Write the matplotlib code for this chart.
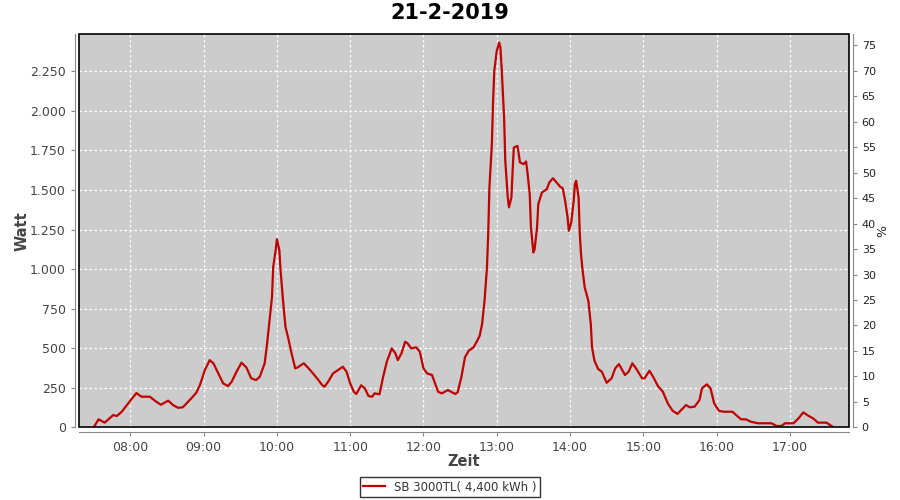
import matplotlib
matplotlib.use("Agg")
import matplotlib.pyplot as plt
from matplotlib.patches import Rectangle
from matplotlib.ticker import FuncFormatter, MultipleLocator

# values (time of day, power in W)
times = ["07:30", "07:34", "07:39", "07:46", "07:49", "07:53", "08:00", "08:05",
         "08:09", "08:16", "08:20", "08:25", "08:31", "08:35", "08:39", "08:43",
         "08:50", "08:54", "08:57", "09:01", "09:05", "09:08", "09:12", "09:16",
         "09:20", "09:23", "09:27", "09:31", "09:35", "09:39", "09:43", "09:46",
         "09:50", "09:52", "09:54", "09:56", "09:57", "09:59", "10:00", "10:02",
         "10:03", "10:05", "10:07", "10:09", "10:12", "10:15", "10:17", "10:22",
         "10:26", "10:30", "10:34", "10:37", "10:39", "10:42", "10:46", "10:50",
         "10:54", "10:57", "11:00", "11:03", "11:05", "11:09", "11:12", "11:15",
         "11:18", "11:20", "11:24", "11:27", "11:30", "11:34", "11:37", "11:39",
         "11:42", "11:45", "11:47", "11:50", "11:54", "11:57", "12:00", "12:03",
         "12:07", "12:09", "12:12", "12:15", "12:20", "12:26", "12:28", "12:31",
         "12:34", "12:37", "12:41", "12:44", "12:46", "12:48", "12:50", "12:52",
         "12:53", "12:54", "12:56", "12:57", "12:58", "13:00", "13:02", "13:03",
         "13:04", "13:06", "13:07", "13:09", "13:10", "13:12", "13:13", "13:14",
         "13:17", "13:19", "13:22", "13:24", "13:25", "13:27", "13:28", "13:30",
         "13:31", "13:33", "13:34", "13:37", "13:41", "13:43", "13:46", "13:49",
         "13:52", "13:54", "13:56", "13:58", "13:59", "14:01", "14:03", "14:04",
         "14:05", "14:07", "14:08", "14:09", "14:10", "14:12", "14:15", "14:17",
         "14:18", "14:20", "14:23", "14:26", "14:30", "14:34", "14:37", "14:40",
         "14:45", "14:48", "14:51", "14:54", "14:59", "15:01", "15:05", "15:08",
         "15:12", "15:16", "15:20", "15:24", "15:28", "15:31", "15:35", "15:38",
         "15:42", "15:46", "15:48", "15:52", "15:55", "15:58", "16:02", "16:06",
         "16:13", "16:16", "16:20", "16:24", "16:28", "16:34", "16:45", "16:49",
         "16:53", "16:56", "17:03", "17:07", "17:11", "17:15", "17:19", "17:23",
         "17:30", "17:35"]
watt = [0, 51, 30, 78, 72, 99, 169, 217,
        194, 194, 169, 143, 169, 141, 124, 127,
        184, 219, 268, 362, 425, 405, 341, 278,
        261, 289, 352, 409, 379, 310, 299, 320,
        405, 531, 678, 825, 1015, 1120, 1188, 1120,
        994, 804, 636, 573, 468, 373, 379, 405,
        373, 337, 299, 268, 257, 289, 341, 362,
        383, 352, 278, 225, 211, 266, 247, 198,
        194, 215, 209, 320, 415, 499, 468, 425,
        468, 541, 531, 499, 506, 478, 373, 341,
        331, 289, 225, 215, 236, 211, 222, 316,
        443, 484, 506, 547, 579, 653, 800, 1011,
        1221, 1516, 1789, 2063, 2252, 2378, 2431, 2400,
        2273, 1958, 1684, 1453, 1390, 1453, 1621, 1768,
        1778, 1674, 1663, 1680, 1621, 1473, 1263, 1105,
        1126, 1263, 1410, 1484, 1505, 1547, 1574, 1547,
        1520, 1511, 1431, 1326, 1242, 1295, 1431, 1537,
        1558, 1453, 1221, 1095, 1011, 884, 800, 653,
        506, 421, 369, 352, 282, 310, 373, 400,
        331, 352, 405, 373, 310, 310, 358, 320,
        261, 225, 152, 105, 85, 110, 141, 127,
        131, 173, 247, 272, 247, 152, 104, 99,
        99, 78, 51, 51, 36, 26, 26, 9,
        9, 26, 26, 57, 95, 74, 57, 30,
        30, 4]
hour_labels = ["08:00", "09:00", "10:00", "11:00", "12:00",
               "13:00", "14:00", "15:00", "16:00", "17:00"]


def to_hours(s):
    h, m = s.split(":")
    return int(h) + int(m) / 60.0


x = [to_hours(t) for t in times]

plt.rcParams["font.family"] = ["DejaVu Sans"]
tick_color = "#444444"
axis_color = "#888888"

fig = plt.figure(figsize=(9, 5), dpi=100)
ax = fig.add_axes([0.0878, 0.1452, 0.855, 0.7868])
ax.set_facecolor("#cccccc")

ax.plot(x, watt, color="#c00000", lw=1.6, label="SB 3000TL( 4,400 kWh )", zorder=3)

ax.set_xlim(7.30, 17.80)
ax.set_ylim(0, 2485)
ax.set_xticks([to_hours(h) for h in hour_labels])
ax.set_xticklabels(hour_labels)
ax.yaxis.set_major_locator(MultipleLocator(250))
ax.yaxis.set_major_formatter(FuncFormatter(lambda v, p: f"{v:,.0f}".replace(",", ".")))
ax.grid(True, color="white", ls=(0, (2, 2)), lw=0.9)
ax.set_axisbelow(True)

for side in ["top", "right"]:
    ax.spines[side].set_visible(False)
for side in ["left", "bottom"]:
    ax.spines[side].set_position(("outward", 3))
    ax.spines[side].set_color(axis_color)
ax.tick_params(colors=axis_color, labelcolor=tick_color, labelsize=9, length=3)

ax.add_patch(Rectangle((0, 0), 1, 1, transform=ax.transAxes, fill=False,
                       edgecolor="black", lw=1.2, zorder=5, clip_on=False))

ax.set_ylabel("Watt", fontsize=10.5, color=tick_color, fontweight="bold", labelpad=0)
ax.set_xlabel("Zeit", fontsize=10.5, color=tick_color, fontweight="bold", labelpad=0)

ax2 = ax.twinx()
ax2.set_ylim(0, 77.2)
ax2.yaxis.set_major_locator(MultipleLocator(5))
for side in ["top", "left", "bottom"]:
    ax2.spines[side].set_visible(False)
ax2.spines["right"].set_position(("outward", 3))
ax2.spines["right"].set_color(axis_color)
ax2.tick_params(colors=axis_color, labelcolor="#222222", labelsize=8, length=3)
ax2.set_ylabel("%", fontsize=9, color="#222222", labelpad=0)

fig.suptitle("21-2-2019", fontsize=15, fontweight="bold", y=0.974, va="center")

fig.legend(loc="center", bbox_to_anchor=(0.5, 0.026), frameon=True, fancybox=False,
           edgecolor="black", fontsize=8.5, handlelength=1.8, borderpad=0.3,
           labelcolor="#333333")

fig.savefig("out.png", dpi=100)
